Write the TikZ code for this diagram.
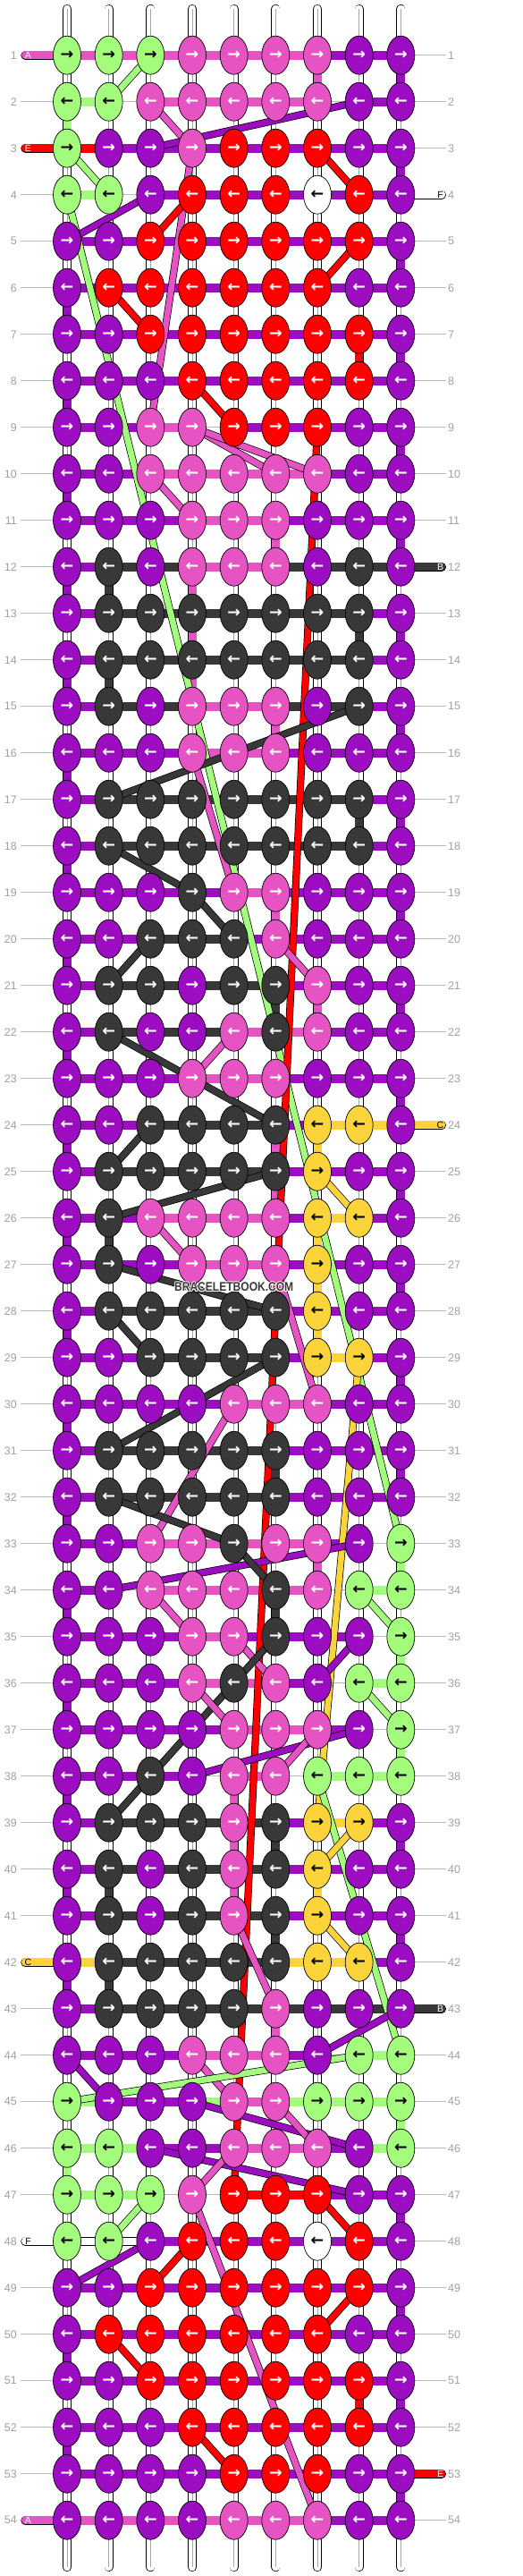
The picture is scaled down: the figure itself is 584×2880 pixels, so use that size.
\documentclass[tikz,border=0pt]{standalone}
\usepackage{fontspec}
\setmainfont{Liberation Sans}
\newfontfamily\arrowfont{DejaVu Sans}
\usetikzlibrary{shapes.geometric}
\definecolor{cP}{HTML}{9C0CC1}
\definecolor{cK}{HTML}{E654C3}
\definecolor{cR}{HTML}{FF0000}
\definecolor{cG}{HTML}{A3FC7C}
\definecolor{cD}{HTML}{383838}
\definecolor{cY}{HTML}{FAD43A}
\definecolor{cW}{HTML}{FFFFFF}
\definecolor{guide}{HTML}{BBBBBB}
\definecolor{numgray}{HTML}{A0A0A0}
\pgfdeclarelayer{back}
\pgfdeclarelayer{bg}
\pgfdeclarelayer{mid}
\pgfsetlayers{back,bg,mid,main}
\tikzset{
  knot/.style={ellipse, draw=black, line width=0.7pt, minimum width=31pt, minimum height=43pt, inner sep=0pt, font=\arrowfont\bfseries\fontsize{17.5}{17.5}\selectfont},
  kP/.style={fill=cP,text=white}, kK/.style={fill=cK,text=white}, kR/.style={fill=cR,text=white},
  kD/.style={fill=cD,text=white}, kG/.style={fill=cG,text=black}, kY/.style={fill=cY,text=black},
  kW/.style={fill=white,text=black},
  bar/.style={line width=9.6pt},
  bP/.style={draw=cP}, bK/.style={draw=cK}, bR/.style={draw=cR}, bD/.style={draw=cD},
  bG/.style={draw=cG}, bY/.style={draw=cY}, bN/.style={draw=none},
  bW/.style={draw=black, line width=0.7pt, double=white, double distance=8.2pt},
  vbar/.style={line width=9pt},
  diag/.style={draw=black, line width=0.7pt, double distance=6.8pt},
  pill/.style={draw=black, line width=0.7pt, double distance=8.6pt, line cap=round},
  lbl/.style={font=\fontsize{12.5}{12.5}\selectfont, text=numgray, inner sep=0pt},
  plbl/.style={font=\fontsize{10.5}{10.5}\selectfont, inner sep=0pt},
  wm/.style={font=\bfseries\fontsize{14}{14}\selectfont, inner sep=0pt}
}
\begin{document}
\begin{tikzpicture}[x=1pt,y=-1pt]
\useasboundingbox (0,0) rectangle (584,2880);
\begin{pgfonlayer}{back}
\fill[white] (0,0) rectangle (584,2880);
\end{pgfonlayer}
% knots
\foreach \r/\cl in {
1/{G,G,G,K,K,K,K,P,P},2/{G,G,K,K,K,K,K,P,P},3/{G,P,P,K,R,R,R,P,P},4/{G,G,P,R,R,R,W,R,P},
5/{P,P,R,R,R,R,R,R,P},6/{P,R,R,R,R,R,R,P,P},7/{P,P,R,R,R,R,R,R,P},8/{P,P,P,R,R,R,R,R,P},
9/{P,P,K,K,R,R,R,P,P},10/{P,P,K,K,K,K,K,P,P},11/{P,P,P,K,K,K,P,P,P},12/{P,D,P,K,K,K,P,D,P},
13/{P,D,D,D,D,D,D,D,P},14/{P,D,D,D,D,D,D,D,P},15/{P,D,P,K,K,K,P,D,P},16/{P,P,P,K,K,K,P,P,P},
17/{P,D,D,D,D,D,D,D,P},18/{P,D,D,D,D,D,D,D,P},19/{P,P,P,D,K,K,P,P,P},20/{P,P,D,D,D,K,P,P,P},
21/{P,D,D,P,D,D,K,P,P},22/{P,D,P,P,K,D,K,P,P},23/{P,P,P,K,K,K,P,P,P},24/{P,P,D,D,D,D,Y,Y,P},
25/{P,D,D,D,D,D,Y,P,P},26/{P,D,K,K,K,K,Y,Y,P},27/{P,D,P,K,K,K,Y,P,P},28/{P,D,D,D,D,D,Y,P,P},
29/{P,P,D,D,D,D,Y,Y,P},30/{P,P,P,P,K,K,K,P,P},31/{P,D,D,D,D,D,P,P,P},32/{P,D,D,D,D,D,P,P,P},
33/{P,P,K,K,D,K,K,P,G},34/{P,P,K,K,K,D,K,G,G},35/{P,P,P,K,K,D,P,P,G},36/{P,P,P,K,D,K,P,G,G},
37/{P,P,P,P,K,K,K,P,G},38/{P,P,D,P,K,K,G,G,G},39/{P,D,D,D,K,D,Y,Y,P},40/{P,D,P,D,K,D,Y,P,P},
41/{P,D,P,D,K,D,Y,P,P},42/{P,D,D,D,D,D,Y,Y,P},43/{P,D,D,D,D,K,P,P,P},44/{P,P,P,K,K,K,P,G,G},
45/{G,P,P,P,K,K,G,G,G},46/{G,G,P,P,K,K,K,P,G},47/{G,G,G,K,R,R,R,P,P},48/{G,G,P,R,R,R,W,R,P},
49/{P,P,R,R,R,R,R,R,P},50/{P,R,R,R,R,R,R,P,P},51/{P,P,R,R,R,R,R,R,P},52/{P,P,P,R,R,R,R,R,P},
53/{P,P,P,P,R,R,R,P,P},54/{P,P,P,P,K,K,K,P,P}}{
  \foreach \k [count=\c] in \cl {
    \pgfmathsetmacro\xx{75+(\c-1)*46.6667}
    \pgfmathsetmacro\yy{61.7+(\r-1)*52}
    \ifodd\r\relax\def\ar{→}\else\def\ar{←}\fi
    \node[knot,k\k] (k\r-\c) at (\xx,\yy) {\ar};
  }
}
% row labels, guides
\foreach \r in {1,...,54}{
  \pgfmathsetmacro\yy{61.7+(\r-1)*52}
  \node[lbl,anchor=east] (ll\r) at (19,\yy) {\r};
  \node[lbl,anchor=west] (lr\r) at (501,\yy) {\r};
  \coordinate (gl\r) at (23.3,\yy);
  \coordinate (gr\r) at (499,\yy);
  \begin{pgfonlayer}{bg}
    \draw[guide,line width=0.8pt] (gl\r) -- (gr\r);
  \end{pgfonlayer}
}
% base strings
\begin{pgfonlayer}{bg}
\foreach \c in {1,...,9}{
  \pgfmathsetmacro\xx{75+(\c-1)*46.6667}
  \coordinate (st\c) at (\xx,10);
  \coordinate (sb\c) at (\xx,2870);
  \draw[black,line width=10.2pt,line cap=round] (st\c) -- (sb\c);
  \draw[white,line width=8.8pt,line cap=round] (st\c) -- (sb\c);
  \draw[black!35,line width=0.6pt] (st\c) -- (sb\c);
}
\end{pgfonlayer}
\begin{pgfonlayer}{mid}
% horizontal bars
\foreach \r/\bl in {
1/{K,K,K,K,K,K,P,P},2/{G,N,K,K,K,K,N,P},3/{R,P,P,P,P,P,P,P},4/{G,N,P,P,P,P,P,P},
5/{P,P,P,P,P,P,P,P},6/{P,P,P,P,P,P,P,P},7/{P,P,P,P,P,P,P,P},8/{P,P,P,P,P,P,P,P},
9/{P,P,K,N,P,P,P,P},10/{P,P,K,K,K,K,P,P},11/{P,P,P,K,K,P,P,P},12/{P,D,D,K,K,D,D,D},
13/{P,D,D,D,D,D,D,P},14/{P,D,D,D,D,D,D,P},15/{P,D,D,K,K,D,D,P},16/{P,P,P,K,K,P,P,P},
17/{P,D,D,D,D,D,D,P},18/{P,D,D,D,D,D,D,P},19/{P,P,P,P,K,P,P,P},20/{P,P,D,D,P,P,P,P},
21/{P,D,D,D,D,P,P,P},22/{P,D,D,D,K,K,P,P},23/{P,P,P,K,K,P,P,P},24/{P,P,D,D,D,P,Y,Y},
25/{P,D,D,D,D,P,P,P},26/{P,P,K,K,K,P,Y,P},27/{P,P,P,K,K,P,P,P},28/{P,D,D,D,D,P,P,P},
29/{P,P,D,D,D,P,Y,P},30/{P,P,P,P,K,K,P,P},31/{P,D,D,D,D,P,P,P},32/{P,D,D,D,D,P,P,P},
33/{P,P,K,K,K,K,P,N},34/{P,N,K,K,K,K,N,G},35/{P,P,P,K,P,P,P,N},36/{P,P,P,K,K,P,N,G},
37/{P,P,P,P,K,K,P,N},38/{P,P,P,N,K,N,G,G},39/{P,D,D,D,D,P,Y,P},40/{P,D,D,D,D,P,P,P},
41/{P,D,D,D,D,P,P,P},42/{Y,D,D,D,D,Y,Y,P},43/{P,D,D,D,D,D,D,D},44/{P,P,P,K,K,P,N,G},
45/{G,P,P,G,K,G,G,G},46/{G,G,P,P,K,K,P,G},47/{G,G,N,N,R,R,P,P},48/{W,W,P,P,P,P,P,P},
49/{P,P,P,P,P,P,P,P},50/{P,P,P,P,P,P,P,P},51/{P,P,P,P,P,P,P,P},52/{P,P,P,P,P,P,P,P},
53/{P,P,P,P,P,P,P,P},54/{K,K,K,K,K,K,P,P}}{
  \foreach \b [count=\c] in \bl {
    \pgfmathtruncatemacro\cn{\c+1}
    \draw[bar,b\b] (k\r-\c.center) -- (k\r-\cn.center);
  }
}
% vertical colored segments
\foreach \r/\c/\col in {1/7/K,1/9/P,2/1/G,3/9/P,5/9/P,6/1/P,7/8/R,7/9/P,8/1/P,9/9/P,10/1/P,
11/6/K,11/9/P,12/1/P,12/2/D,12/4/K,13/4/K,13/8/D,13/9/P,14/1/P,14/2/D,14/4/K,15/6/K,15/9/P,
16/1/P,17/8/D,17/9/P,18/1/P,19/6/K,19/9/P,20/1/P,21/6/D,21/7/K,21/9/P,22/1/P,23/9/P,24/1/P,
24/6/K,24/7/Y,25/6/K,25/9/P,26/1/P,26/2/D,26/7/Y,27/7/Y,27/9/P,28/1/P,28/7/Y,29/9/P,30/1/P,
31/6/D,31/9/P,32/1/P,33/7/K,33/9/G,34/1/P,34/6/D,35/9/G,36/1/P,37/9/G,38/1/P,38/5/K,39/5/K,
39/6/D,39/9/P,40/1/P,40/2/D,40/5/K,40/7/Y,41/6/D,41/9/P,42/1/P,42/2/D,43/6/K,45/9/G,46/1/G,
47/9/P,49/9/P,50/1/P,51/8/R,51/9/P,52/1/P,53/9/P}{
  \pgfmathtruncatemacro\rn{\r+1}
  \draw[vbar,draw=c\col] (k\r-\c.center) -- (k\rn-\c.center);
}
% diagonal strings
\foreach \a/\b/\col in {1-3/2-2/G,2-3/3-4/K,2-8/3-3/P,3-1/4-2/G,3-7/4-8/R,3-4/9-3/K,4-3/5-1/P,
4-4/5-3/R,4-1/33-9/G,5-8/6-7/R,6-2/7-3/R,8-4/9-5/R,9-4/10-6/K,9-4/10-7/K,9-7/47-5/R,10-3/11-4/K,
15-8/17-2/D,16-4/19-5/K,18-2/19-4/D,19-4/20-5/D,20-3/21-2/D,20-6/21-7/K,22-2/23-4/D,22-5/23-4/K,
23-4/24-6/D,24-3/25-2/D,25-6/26-2/D,25-7/26-8/Y,26-3/27-4/K,27-2/28-6/D,27-6/30-7/K,28-2/29-3/D,
29-6/31-2/D,29-8/39-7/Y,30-5/33-3/K,32-2/33-5/D,33-8/34-2/P,33-5/34-6/D,34-3/35-4/K,34-8/35-9/G,
35-5/36-6/K,35-6/36-5/D,35-8/36-7/P,36-5/39-2/D,36-4/37-5/K,36-8/37-9/G,37-8/38-4/P,37-7/38-6/K,
38-7/44-9/G,39-8/40-7/Y,41-7/42-8/Y,41-5/43-6/K,43-9/44-7/P,44-1/45-2/P,44-4/45-5/K,44-8/45-1/G,
45-4/46-8/P,46-3/47-8/P,45-6/46-7/K,46-5/47-4/K,47-3/48-2/G,47-7/48-8/R,47-4/54-7/K,48-3/49-1/P,
48-4/49-3/R,49-8/50-7/R,50-2/51-3/R,52-4/53-5/R}{
  \draw[diag,double=c\col] (k\a.center) -- (k\b.center);
}
% entry strings (pills)
\foreach \r/\col/\t/\tc in {1/K/A/white,3/R/E/white,42/Y/C/black,48/W/F/black,54/K/A/white}{
  \pgfmathsetmacro\yy{61.7+(\r-1)*52}
  \coordinate (pl\r) at (28.3,\yy);
  \draw[pill,double=c\col] (pl\r) -- (k\r-1.center);
  \node[plbl,text=\tc] (tl\r) at (31.5,\yy) {\t};
}
\foreach \r/\col/\t/\tc in {4/W/F/black,12/D/B/white,24/Y/C/black,43/D/B/white,53/R/E/white}{
  \pgfmathsetmacro\yy{61.7+(\r-1)*52}
  \coordinate (pr\r) at (494,\yy);
  \draw[pill,double=c\col] (pr\r) -- (k\r-9.center);
  \node[plbl,text=\tc] (tr\r) at (492.5,\yy) {\t};
}
\end{pgfonlayer}
% watermark
\foreach \dx/\dy in {-0.9/0,0.9/0,0/-0.9,0/0.9,-0.7/-0.7,0.7/0.7,-0.7/0.7,0.7/-0.7}{
  \node[wm,text=white] at (261.7+\dx,1439+\dy) {\scalebox{0.86}[1]{BRACELETBOOK.COM}};
}
\node[wm,text=cD] (wmark) at (261.7,1439) {\scalebox{0.86}[1]{BRACELETBOOK.COM}};
\end{tikzpicture}
\end{document}
